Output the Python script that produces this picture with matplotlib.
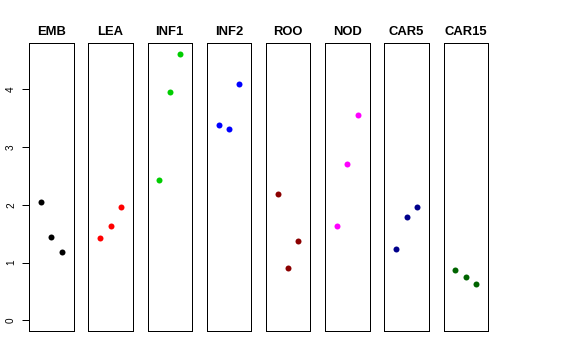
import matplotlib
matplotlib.use("Agg")
import matplotlib.pyplot as plt

tissues = ["EMB", "LEA", "INF1", "INF2", "ROO", "NOD", "CAR5", "CAR15"]
colors = ["#000000", "#FF0000", "#00CD00", "#0000FF", "#8B0000", "#FF00FF", "#00008B", "#006400"]
rep_x = [1, 2, 3]
emb = [2.05, 1.44, 1.18]
lea = [1.43, 1.63, 1.97]
inf1 = [2.43, 3.96, 4.62]
inf2 = [3.39, 3.31, 4.10]
roo = [2.19, 0.91, 1.37]
nod = [1.64, 2.71, 3.56]
car5 = [1.23, 1.79, 1.97]
car15 = [0.87, 0.75, 0.63]
series = [emb, lea, inf1, inf2, roo, nod, car5, car15]
yticks = [0, 1, 2, 3, 4]

W, H = 576, 360
fig = plt.figure(figsize=(W / 72, H / 72), dpi=72)
plt.rcParams['font.family'] = ['Liberation Sans', 'DejaVu Sans']

left0, step, pw = 29.1, 59.2, 44.4
top, bot = 43.0, 331.0
for i, (name, col, vals) in enumerate(zip(tissues, colors, series)):
    l = left0 + i * step
    ax = fig.add_axes([l / W, (H - bot) / H, pw / W, (bot - top) / H])
    ax.plot(rep_x, vals, 'o', color=col, ms=6, mec=col, mew=0)
    ax.set_xlim(-0.16, 4.16)
    ax.set_ylim(-0.185, 4.805)
    ax.set_xticks([])
    for s in ax.spines.values():
        s.set_linewidth(1.0)
        s.set_color('black')
    ax.set_title(name, fontsize=13, fontweight='bold', pad=8)
    if i == 0:
        ax.set_yticks(yticks)
        ax.set_yticklabels([str(t) for t in yticks], rotation=90, va='center', fontsize=10)
        ax.tick_params(axis='y', length=7, width=1, pad=6)
    else:
        ax.set_yticks([])

fig.savefig("out.png", dpi=72)
